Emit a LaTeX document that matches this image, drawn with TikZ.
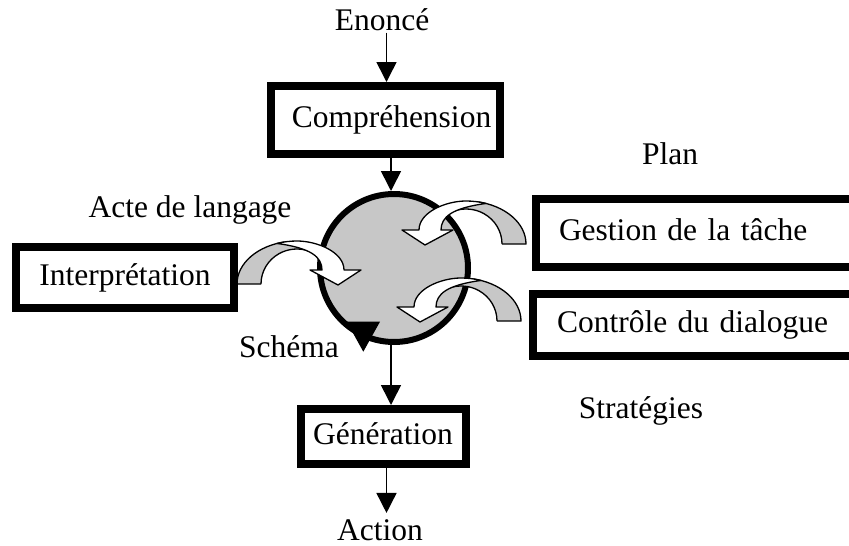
\documentclass[tikz,border=0pt]{standalone}
\usepackage{fontspec}
\setmainfont{Liberation Serif}
\usetikzlibrary{arrows.meta}
\tikzset{
  txt/.style={inner sep=0pt, anchor=base, font=\fontsize{31.5}{38}\selectfont},
  box/.style={draw, line width=8pt, inner sep=0pt, text height=22pt, text depth=7pt,
    font=\fontsize{31.5}{38}\selectfont},
  flow/.style={line width=1.6pt, -{Triangle[width=20pt,length=20pt]}},
  outl/.style={draw=black, line width=1.3pt, line join=round},
  bandgray/.style={fill=black!22},
  curvarr/.pic={
    \fill[bandgray] (0,0) arc[start angle=180,end angle=90,x radius=60,y radius=43]
      -- ({60+36*cos(72)},{35*sin(72)})
      arc[start angle=72,end angle=180,x radius=36,y radius=35] -- cycle;
    \draw[outl] (24,0) -- (0,0) arc[start angle=180,end angle=100,x radius=60,y radius=43];
    \draw[outl] (24,0) arc[start angle=180,end angle=72,x radius=36,y radius=35];
    \filldraw[outl, fill=white] (39.97,40.53)
      arc[start angle=109.5,end angle=90,x radius=60,y radius=43]
      .. controls (80,43) and (107,32) .. (107,14)
      -- (124,14) -- (101,-1) -- (73,14) -- (85,14)
      .. controls (85,27) and (74,36) .. (39.97,40.53) -- cycle;
  }
}
\begin{document}
\begin{tikzpicture}[x=1pt,y=-1pt]
\useasboundingbox (0,0) rectangle (849,546);
\clip (0,0) rectangle (849,546);

% central circle
\node[circle, draw, line width=6pt, fill=black!22, minimum size=148pt, inner sep=0pt] (c) at (394,268) {};
\fill (346.7,321.7) -- (380,321.7) -- (363.3,351.7) -- cycle;

% curved block arrows
\pic[yscale=-1] at (237,284) {curvarr};
\pic[xscale=-1,yscale=-1] at (526,244) {curvarr};
\pic[xscale=-1,yscale=-1] at (521,321) {curvarr};

% boxes
\node[box, minimum width=229pt, minimum height=68pt] (comp) at (385.5,120) {\hspace*{12pt}Compréhension};
\node[box, minimum width=165pt, minimum height=55pt] (gen) at (383,436.5) {Génération};
\node[box, minimum width=218pt, minimum height=61pt] (interp) at (125,277.5) {Interprétation};
\node[box, anchor=west, inner xsep=23pt, text width=322pt, align=left, minimum height=68pt] (gest) at (532,233) {Gestion de la tâche};
\node[box, anchor=west, inner xsep=24pt, text width=322pt, align=left, minimum height=62pt] (ctrl) at (529,325) {Contrôle du dialogue};

% labels
\node[txt] (enonce) at (382,30) {Enoncé};
\node[txt] (action) at (380,540) {Action};
\node[txt] (plan) at (670,164) {Plan};
\node[txt] (acte) at (190,217) {Acte de langage};
\node[txt] (schema) at (289,357) {Schéma};
\node[txt] (strat) at (641,418) {Stratégies};

% flow arrows
\coordinate (colA) at (386.5,0);
\coordinate (colB) at (391,0);
\draw[flow] ([yshift=-2pt]colA |- enonce.south) -- (colA |- comp.north);
\draw[flow] (colB |- comp.south) -- (colB |- c.north);
\draw[flow] (colB |- c.south) -- (colB |- gen.north);
\draw[flow] (colA |- gen.south) -- ([yshift=6pt]colA |- action.north);
\end{tikzpicture}
\end{document}
